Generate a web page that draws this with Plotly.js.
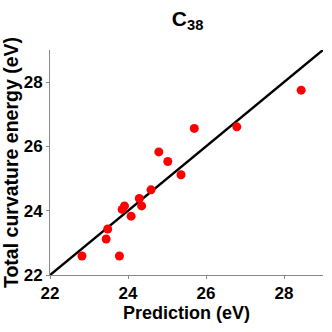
<!DOCTYPE html>
<html><head><meta charset="utf-8">
<script src="https://cdn.plot.ly/plotly-3.0.1.min.js"></script>
<style>html,body{margin:0;padding:0;background:#fff}#c{width:332px;height:332px}</style>
</head><body><div id="c"></div>
<script>
const prediction = [28.44, 25.70, 26.79, 24.79, 25.02, 25.36, 24.59, 24.29, 24.35, 23.91, 23.85, 24.08, 23.48, 23.44, 22.82, 23.78];
const totalEnergy = [27.75, 26.56, 26.61, 25.83, 25.53, 25.12, 24.65, 24.38, 24.15, 24.15, 24.04, 23.83, 23.43, 23.12, 22.59, 22.59];
const fitX = [22, 29];
const fitY = [22, 29];
const tickVals = [22, 24, 26, 28];

const font = {family: 'Liberation Sans, Arial, sans-serif', color: '#000'};
Plotly.newPlot('c', [
  {x: fitX, y: fitY, mode: 'lines', line: {color: '#000', width: 2.5}, hoverinfo: 'skip'},
  {x: prediction, y: totalEnergy, mode: 'markers', marker: {color: '#ff0000', size: 9}}
], {
  width: 332, height: 332,
  margin: {l: 50, r: 9, t: 50, b: 57},
  showlegend: false,
  paper_bgcolor: '#fff', plot_bgcolor: '#fff',
  title: {text: 'C<sub>38</sub>', x: 0.565, xanchor: 'center', y: 0.945, yanchor: 'middle', font: Object.assign({size: 21, weight: 'bold'}, font)},
  xaxis: {range: [22, 29], tickvals: tickVals, showgrid: false, zeroline: false,
    showline: true, linecolor: '#888', linewidth: 1, ticks: 'outside', ticklen: 3, tickcolor: '#888',
    tickfont: Object.assign({size: 17, weight: 'bold'}, font),
    title: {text: 'Prediction (eV)', standoff: 3, font: Object.assign({size: 18, weight: 'bold'}, font)}},
  yaxis: {range: [22, 29], tickvals: tickVals, showgrid: false, zeroline: false,
    showline: true, linecolor: '#888', linewidth: 1, ticks: 'outside', ticklen: 3, tickcolor: '#888',
    tickfont: Object.assign({size: 17, weight: 'bold'}, font),
    title: {text: 'Total curvature energy (eV)', standoff: 2, font: Object.assign({size: 19.5, weight: 'bold'}, font)}}
}, {displayModeBar: false, staticPlot: true});
</script></body></html>
